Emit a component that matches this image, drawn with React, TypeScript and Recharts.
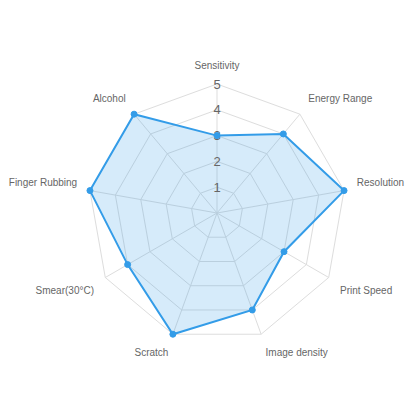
import React from "react";
import { RadarChart, Radar, PolarGrid, PolarAngleAxis, PolarRadiusAxis } from "recharts";

const indicators = [
  "Sensitivity",
  "Energy Range",
  "Resolution",
  "Print Speed",
  "Image density",
  "Scratch",
  "Smear(30°C)",
  "Finger Rubbing",
  "Alcohol",
];
const scores = [3, 4, 5, 3, 4, 5, 4, 5, 5];
const radiusTicks = [0, 1, 2, 3, 4, 5];

const data = indicators.map((name, i) => ({ name, value: scores[i] }));

const CX = 217;
const CY = 213;
const R = 129;
const LABEL_R = 142;
const BLUE = "#339ce8";

const AngleTick = (props: any) => {
  const { x, y, payload } = props;
  const dx = x - CX;
  const dy = y - CY;
  const len = Math.sqrt(dx * dx + dy * dy) || 1;
  const px = CX + (dx / len) * LABEL_R;
  const py = CY + (dy / len) * LABEL_R;
  const ux = dx / len;
  const uy = dy / len;
  const anchor = Math.abs(ux) < 0.01 ? "middle" : ux > 0 ? "start" : "end";
  let ty = py;
  if (Math.abs(uy) < 0.01) ty = py + 3.5;
  else if (uy < 0) ty = py - 2;
  else ty = py + 9.5;
  return (
    <text x={px} y={ty} textAnchor={anchor} fontSize={10} fill="#666" fontFamily="'Liberation Sans', Arial, sans-serif">
      {payload.value}
    </text>
  );
};

const RadiusTick = (props: any) => {
  const { x, y, payload } = props;
  if (payload.value === 0) return null;
  return (
    <text x={x} y={y + 4.5} textAnchor="middle" fontSize={13} fill="#666" fontFamily="'Liberation Sans', Arial, sans-serif">
      {payload.value}
    </text>
  );
};

export default function App() {
  return (
    <div style={{ position: "absolute", left: 0, top: 0, width: 416, height: 416, background: "#fff" }}>
      <RadarChart width={416} height={416} cx={CX} cy={CY} outerRadius={R} data={data}>
        <PolarGrid gridType="polygon" stroke="#dddddd" strokeWidth={1} />
        <PolarAngleAxis dataKey="name" tick={<AngleTick />} tickLine={false} axisLine={false} />
        <PolarRadiusAxis
          angle={90}
          domain={[0, 5]}
          ticks={radiusTicks as any}
          tickCount={6}
          axisLine={false}
          tick={<RadiusTick />}
        />
        <Radar
          dataKey="value"
          stroke={BLUE}
          strokeWidth={2}
          fill={BLUE}
          fillOpacity={0.2}
          dot={{ r: 3, fill: BLUE, stroke: BLUE, strokeWidth: 1, fillOpacity: 1 }}
          isAnimationActive={false}
        />
      </RadarChart>
    </div>
  );
}
